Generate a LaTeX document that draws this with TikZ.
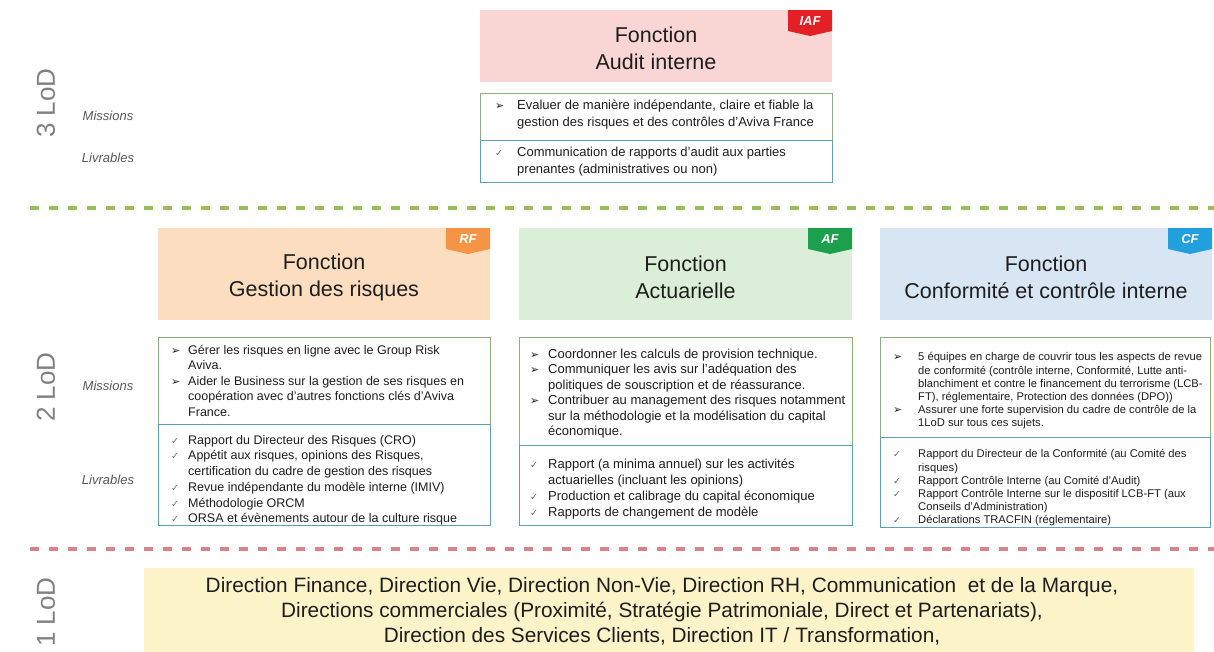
\documentclass[tikz,border=0pt]{standalone}
\usepackage{fontspec}
\setmainfont{Liberation Sans}
\newfontfamily\symfont{DejaVu Sans}
\usepackage{array}
\definecolor{iafFill}{RGB}{249,214,212}
\definecolor{rfFill}{RGB}{252,221,192}
\definecolor{afFill}{RGB}{219,238,215}
\definecolor{cfFill}{RGB}{216,229,243}
\definecolor{lodFill}{RGB}{253,243,201}
\definecolor{iafTag}{RGB}{226,32,38}
\definecolor{rfTag}{RGB}{244,148,68}
\definecolor{afTag}{RGB}{28,160,78}
\definecolor{cfTag}{RGB}{34,160,222}
\definecolor{missLine}{RGB}{140,175,130}
\definecolor{livLine}{RGB}{95,160,175}
\definecolor{greenDash}{RGB}{155,190,90}
\definecolor{redDash}{RGB}{218,130,138}
\definecolor{lodGray}{RGB}{128,128,128}
\definecolor{txt}{RGB}{30,30,30}
\newcommand\bu{\leavevmode{\symfont\fontsize{11}{11}\selectfont ➢}}
\newcommand\ck{\leavevmode{\color{black!60}\symfont\fontsize{9.5}{9.5}\selectfont ✓}}
\begin{document}
\begin{tikzpicture}[x=1pt,y=-1pt,
  hdr/.style={font=\fontsize{21.5}{27}\selectfont, align=center, text=txt, inner sep=0},
  tagtxt/.style={font=\fontsize{13}{13}\selectfont\bfseries\itshape, text=white, inner sep=0},
  lst/.style={anchor=north west, inner sep=0, text=txt},
  side/.style={font=\fontsize{13}{14}\selectfont\itshape, text=black!65, inner sep=0},
  lod/.style={font=\fontsize{26}{26}\selectfont, text=lodGray, rotate=90, inner sep=0},
  missbox/.style={draw=missLine, line width=0.9pt},
  livbox/.style={draw=livLine, line width=0.9pt},
  dashline/.style={line width=4pt, dash pattern=on 9pt off 10pt},
]
\useasboundingbox (0,0) rectangle (1214,651);
\fill[white] (0,0) rectangle (1214,651);

% ---------- 3 LoD ----------
\node[fill=iafFill, minimum width=352, minimum height=72, inner sep=0] (iafB) at (656,46) {};
\node[hdr] (iafH) at (656,48.5) {Fonction\\Audit interne};
\fill[iafTag] (788,10) -- (832,10) -- (832,31) -- (810,36) -- (788,31) -- cycle;
\node[tagtxt] (iafT) at (810,21) {IAF};
\draw[missbox] (480,93) rectangle (832,140);
\draw[livbox] (480,140) rectangle (832,182);
\node[lst, font=\fontsize{13}{17}\selectfont] (iafM) at (495,97.5) {\begin{tabular}{@{}p{22pt}@{}l@{}}
\bu & Evaluer de manière indépendante, claire et fiable la\\
 & gestion des risques et des contrôles d'Aviva France
\end{tabular}};
\node[lst, font=\fontsize{13}{17}\selectfont] (iafL) at (495,144.5) {\begin{tabular}{@{}p{22pt}@{}l@{}}
\ck & Communication de rapports d'audit aux parties\\
 & prenantes (administratives ou non)
\end{tabular}};
\node[lod] (lod3) at (46,103) {3 LoD};
\node[side] (m3) at (108,116) {Missions};
\node[side] (l3) at (108,158) {Livrables};

\coordinate (g1) at (30,208);
\coordinate (g2) at (1214,208);
\draw[greenDash, dashline] (g1) -- (g2);

% ---------- 2 LoD headers ----------
\node[fill=rfFill, minimum width=332, minimum height=92, inner sep=0] (rfB) at (324,274) {};
\node[hdr] (rfH) at (324,277) {Fonction\\Gestion des risques};
\fill[rfTag] (446,228) -- (490,228) -- (490,249) -- (468,254) -- (446,249) -- cycle;
\node[tagtxt] (rfT) at (468,239) {RF};
\node[fill=afFill, minimum width=333, minimum height=92, inner sep=0] (afB) at (685.5,274) {};
\node[hdr] (afH) at (685.5,277) {Fonction\\Actuarielle};
\fill[afTag] (808,228) -- (852,228) -- (852,249) -- (830,254) -- (808,249) -- cycle;
\node[tagtxt] (afT) at (830,239) {AF};
\node[fill=cfFill, minimum width=332, minimum height=92, inner sep=0] (cfB) at (1046,274) {};
\node[hdr] (cfH) at (1046,277) {Fonction\\Conformité et contrôle interne};
\fill[cfTag] (1168,228) -- (1212,228) -- (1212,249) -- (1190,254) -- (1168,249) -- cycle;
\node[tagtxt] (cfT) at (1190,239) {CF};

% ---------- RF body ----------
\draw[missbox] (158,337) rectangle (490,424);
\draw[livbox] (158,424) rectangle (490,525);
\node[lst, font=\fontsize{12.5}{15.6}\selectfont] (rfM) at (171,343) {\begin{tabular}{@{}p{17pt}@{}l@{}}
\bu & Gérer les risques en ligne avec le Group Risk\\
 & Aviva.\\
\bu & Aider le Business sur la gestion de ses risques en\\
 & coopération avec d'autres fonctions clés d'Aviva\\
 & France.
\end{tabular}};
\node[lst, font=\fontsize{12.5}{15.7}\selectfont] (rfL) at (171,433) {\begin{tabular}{@{}p{17pt}@{}l@{}}
\ck & Rapport du Directeur des Risques (CRO)\\
\ck & Appétit aux risques, opinions des Risques,\\
 & certification du cadre de gestion des risques\\
\ck & Revue indépendante du modèle interne (IMIV)\\
\ck & Méthodologie ORCM\\
\ck & ORSA et évènements autour de la culture risque
\end{tabular}};

% ---------- AF body ----------
\draw[missbox] (519,337) rectangle (852,445);
\draw[livbox] (519,445) rectangle (852,525);
\node[lst, font=\fontsize{13}{15.4}\selectfont] (afM) at (530,347.5) {\begin{tabular}{@{}p{18pt}@{}l@{}}
\bu & Coordonner les calculs de provision technique.\\
\bu & Communiquer les avis sur l'adéquation des\\
 & politiques de souscription et de réassurance.\\
\bu & Contribuer au management des risques notamment\\
 & sur la méthodologie et la modélisation du capital\\
 & économique.
\end{tabular}};
\node[lst, font=\fontsize{13}{16}\selectfont] (afL) at (530,457.5) {\begin{tabular}{@{}p{18pt}@{}l@{}}
\ck & Rapport (a minima annuel) sur les activités\\
 & actuarielles (incluant les opinions)\\
\ck & Production et calibrage du capital économique\\
\ck & Rapports de changement de modèle
\end{tabular}};

% ---------- CF body ----------
\draw[missbox] (880,337) rectangle (1210,437);
\draw[livbox] (880,437) rectangle (1210,527);
\node[lst, font=\fontsize{11.2}{13.2}\selectfont] (cfM) at (893,351.5) {\begin{tabular}{@{}p{25pt}@{}l@{}}
\bu & 5 équipes en charge de couvrir tous les aspects de revue\\
 & de conformité (contrôle interne, Conformité, Lutte anti-\\
 & blanchiment et contre le financement du terrorisme (LCB-\\
 & FT), réglementaire, Protection des données (DPO))\\
\bu & Assurer une forte supervision du cadre de contrôle de la\\
 & 1LoD sur tous ces sujets.
\end{tabular}};
\node[lst, font=\fontsize{11.2}{13.2}\selectfont] (cfL) at (893,448.5) {\begin{tabular}{@{}p{25pt}@{}l@{}}
\ck & Rapport du Directeur de la Conformité (au Comité des\\
 & risques)\\
\ck & Rapport Contrôle Interne (au Comité d'Audit)\\
\ck & Rapport Contrôle Interne sur le dispositif LCB-FT (aux\\
 & Conseils d'Administration)\\
\ck & Déclarations TRACFIN (réglementaire)
\end{tabular}};

\node[lod] (lod2) at (46,387) {2 LoD};
\node[side] (m2) at (108,386) {Missions};
\node[side] (l2) at (108,480) {Livrables};

\coordinate (r1) at (30,549);
\coordinate (r2) at (1214,549);
\draw[redDash, dashline] (r1) -- (r2);

% ---------- 1 LoD ----------
\fill[lodFill] (144,568) rectangle (1194,660);
\node[font=\fontsize{20.8}{25}\selectfont, align=center, text=txt, inner sep=0] (lod1txt) at (662,611.5) {Direction Finance, Direction Vie, Direction Non-Vie, Direction RH, Communication\ \ et de la Marque,\\
Directions commerciales (Proximité, Stratégie Patrimoniale, Direct et Partenariats),\\
Direction des Services Clients, Direction IT / Transformation,};
\node[lod] (lod1) at (46,612) {1 LoD};
\end{tikzpicture}
\end{document}
